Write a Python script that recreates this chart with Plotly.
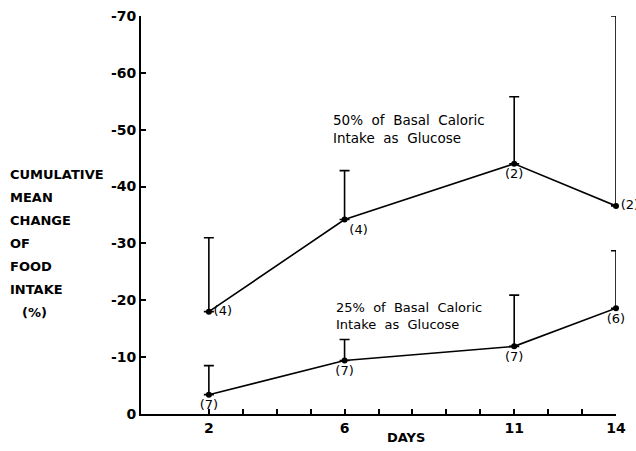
import plotly.graph_objects as go

days = [2, 6, 11, 14]
glucose50 = [-18, -34.2, -44, -36.6]
glucose50_err_top = [-31, -42.8, -55.8, -70]
glucose50_n = ["(4)", "(4)", "(2)", "(2)"]
glucose25 = [-3.4, -9.4, -11.9, -18.6]
glucose25_err_top = [-8.5, -13.1, -20.9, -28.7]
glucose25_n = ["(7)", "(7)", "(7)", "(6)"]

x_tickvals = list(range(2, 15))
x_labels = {2: "2", 6: "6", 11: "11", 14: "14"}
y_tickvals = [0, -10, -20, -30, -40, -50, -60, -70]

FONT = "DejaVu Sans"

fig = go.Figure()

def add_series(y, top, labels, positions):
    err = [yy - t for yy, t in zip(y, top)]
    fig.add_trace(go.Scatter(
        x=days, y=y, mode="lines+markers+text",
        line=dict(color="black", width=1.6),
        marker=dict(color="black", size=6),
        text=labels, textposition=positions,
        textfont=dict(family=FONT, size=13, color="black"),
        cliponaxis=False,
        error_y=dict(type="data", symmetric=False,
                     array=[0] * len(y), arrayminus=err,
                     color="black", thickness=1.6, width=5),
        showlegend=False,
    ))

add_series(glucose50, glucose50_err_top, glucose50_n,
           ["middle right", "bottom right", "bottom center", "middle right"])
add_series(glucose25, glucose25_err_top, glucose25_n,
           ["bottom center", "bottom center", "bottom center", "bottom center"])

fig.update_xaxes(
    range=[0, 14], tickvals=x_tickvals,
    ticktext=["<b>" + x_labels.get(v, "") + "</b>" for v in x_tickvals],
    ticks="inside", ticklen=5, tickwidth=1.5, tickcolor="black",
    showline=True, linecolor="black", linewidth=2,
    showgrid=False, zeroline=False, automargin=False,
    tickfont=dict(family=FONT, size=14, color="black"),
)
fig.update_yaxes(
    range=[0, -70], tickvals=y_tickvals,
    ticktext=["<b>" + str(v) + "</b>" for v in y_tickvals],
    ticks="inside", ticklen=5, tickwidth=1.5, tickcolor="black",
    showline=True, linecolor="black", linewidth=2,
    showgrid=False, zeroline=False, automargin=False,
    tickfont=dict(family=FONT, size=14, color="black"),
)

ylabel_lines = ["CUMULATIVE", "MEAN", "CHANGE", "OF", "FOOD", "INTAKE", "(%)"]
annotations = []
for i, t in enumerate(ylabel_lines):
    annotations.append(dict(
        xref="paper", yref="paper", x=-141 / 475, y=(451 - 37 - (174 + i * 23)) / 398,
        text="<b>" + t + "</b>",
        showarrow=False, xanchor="left", yanchor="middle",
        xshift=8 if i < 6 else 20,
        font=dict(family=FONT, size=13, color="black"),
    ))
annotations.append(dict(
    xref="paper", yref="paper", x=(406 - 141) / 475, y=-23 / 398,
    text="<b>DAYS</b>", showarrow=False, xanchor="center", yanchor="middle",
    font=dict(family=FONT, size=13, color="black"),
))
annotations.append(dict(
    x=5.6, y=-50.2, text="50%  of  Basal  Caloric<br>Intake  as  Glucose",
    showarrow=False, xanchor="left", yanchor="middle", align="left",
    font=dict(family=FONT, size=13.5, color="black"),
))
annotations.append(dict(
    x=5.7, y=-17.3, text="25%  of  Basal  Caloric<br>Intake  as  Glucose",
    showarrow=False, xanchor="left", yanchor="middle", align="left",
    font=dict(family=FONT, size=13, color="black"),
))

fig.update_layout(
    width=636, height=451,
    margin=dict(l=141, r=20, t=16, b=37),
    paper_bgcolor="white", plot_bgcolor="white",
    annotations=annotations,
    font=dict(family=FONT, color="black"),
)

fig.write_html("out.html", config={"displayModeBar": False},
               post_script="document.body.style.margin='0';document.body.style.overflow='hidden';")
